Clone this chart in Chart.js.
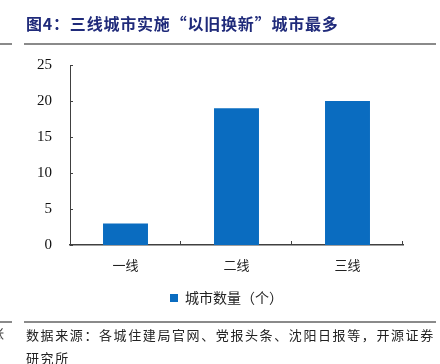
<!DOCTYPE html>
<html>
<head>
<meta charset="utf-8">
<script src="https://cdn.jsdelivr.net/npm/chart.js@4"></script>
<style>
  html, body { margin: 0; padding: 0; background: #fff; }
  #wrap { position: relative; width: 440px; height: 364px; overflow: hidden; }
  #chart { position: absolute; left: 0; top: 0; }
  .title {
    position: absolute; left: 26px; top: 11px;
    font: bold 16px "Noto Sans CJK SC", sans-serif;
    color: #1f2a7a; letter-spacing: 0.8px; white-space: nowrap;
  }
  .rule { position: absolute; height: 2px; background: #8a8a8a; }
  .source {
    position: absolute; left: 26px; top: 323px;
    font: 13px "Noto Sans CJK SC", sans-serif; color: #222;
    letter-spacing: 1.6px; line-height: 23px; white-space: nowrap;
  }
  .edge {
    position: absolute; left: -9px; top: 323px;
    font: 13px "Noto Sans CJK SC", sans-serif; color: #444;
  }
</style>
</head>
<body>
<div id="wrap">
  <canvas id="chart" width="440" height="364"></canvas>
  <div class="title">图4：三线城市实施“以旧换新”城市最多</div>
  <div class="rule" style="left:24px; width:412px; top:43px;"></div>
  <div class="rule" style="left:0; width:12px; top:43px;"></div>
  <div class="rule" style="left:24px; width:412px; top:321px;"></div>
  <div class="rule" style="left:0; width:12px; top:321px;"></div>
  <div class="edge">张</div>
  <div class="source">数据来源：各城住建局官网、党报头条、沈阳日报等，开源证券<br>研究所</div>
</div>
<script>
// =======================
//  DATA
// =======================
const categories = ["一线", "二线", "三线"];
const cityCounts = [3, 19, 20];
const seriesName = "城市数量（个）";
const yTicks = [0, 5, 10, 15, 20, 25];

const axisColor = "#404040";

// inward tick marks, like the original Excel-style axes
const innerTicks = {
  id: "innerTicks",
  afterLayout(chart) {
    // legend sits centred under the plot area, not the whole canvas
    chart.legend.left += 15;
    chart.legend.right += 15;
  },
  afterDraw(chart) {
    const { ctx, scales: { x, y } } = chart;
    ctx.save();
    ctx.strokeStyle = axisColor;
    ctx.lineWidth = 1;
    ctx.beginPath();
    yTicks.forEach(v => {
      const py = Math.round(y.getPixelForValue(v)) + 0.5;
      ctx.moveTo(x.left, py);
      ctx.lineTo(x.left + 3, py);
    });
    for (let i = 0; i < categories.length; i++) {
      const px = (x.getPixelForValue(i) + x.getPixelForValue(i + 1)) / 2;
      const edge = i === categories.length - 1 ? x.right : px;
      ctx.moveTo(Math.round(edge) - 0.5, y.bottom);
      ctx.lineTo(Math.round(edge) - 0.5, y.bottom - 4);
    }
    ctx.stroke();
    ctx.restore();
  }
};

new Chart(document.getElementById("chart"), {
  type: "bar",
  data: {
    labels: categories,
    datasets: [{
      label: seriesName,
      data: cityCounts,
      backgroundColor: "#0a6cc0",
      barPercentage: 0.81,
      categoryPercentage: 0.5
    }]
  },
  options: {
    responsive: false,
    animation: false,
    layout: { padding: { top: 65, left: 20, right: 37, bottom: 49 } },
    plugins: {
      title: { display: false },
      tooltip: { enabled: false },
      legend: {
        position: "bottom",
        labels: {
          boxWidth: 8, boxHeight: 8, padding: 10,
          color: "#222",
          font: { family: "Noto Sans CJK SC", size: 14 }
        }
      }
    },
    scales: {
      x: {
        grid: { display: false },
        border: { color: axisColor, width: 1.5 },
        ticks: {
          color: "#222", padding: 4,
          font: { family: "Noto Sans CJK SC", size: 13 }
        },
        afterFit(scale) { scale.height = 36; }
      },
      y: {
        min: 0, max: 25,
        grid: { display: false },
        border: { color: axisColor, width: 1 },
        ticks: {
          stepSize: 5, padding: 10, color: "#111",
          font: { family: "Liberation Serif", size: 15 }
        },
        afterFit(scale) { scale.width = 50; }
      }
    }
  },
  plugins: [innerTicks]
});
</script>
</body>
</html>
